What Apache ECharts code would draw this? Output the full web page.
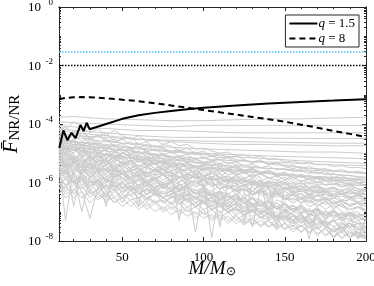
<!DOCTYPE html>
<html><head><meta charset="utf-8">
<script src="https://cdn.jsdelivr.net/npm/echarts@6/dist/echarts.min.js"></script>
<style>html,body{margin:0;padding:0;background:#fff}#c{width:374px;height:286px}</style>
</head><body><div id="c"></div>
<script>
// ---------- data ----------
const massFine = [11,15,20,25,30,35,40,45,50,55,60,65,70,75,80,85,90,95,100,105,110,115,120,125,130,135,140,145,150,155,160,165,170,175,180,185,190,195,200];
const massCoarse = [11,20,40,60,80,100,120,140,160,180,200];

const graySmooth = [
 [1.7e-4,1.8e-4,1.5e-4,1.4e-4,1.3e-4,1.3e-4,1.4e-4,1.5e-4,1.5e-4,1.6e-4,1.7e-4],
 [1.2e-4,1.1e-4,1e-4,9e-5,8e-5,9e-5,9e-5,9e-5,9e-5,9e-5,9e-5],
 [9e-5,8e-5,7e-5,6e-5,6e-5,5.5e-5,5e-5,5e-5,5e-5,5e-5,5e-5],
 [7e-5,6e-5,5e-5,4e-5,3.5e-5,3.5e-5,3.5e-5,3.3e-5,3.2e-5,3.2e-5,3.2e-5],
 [5e-5,4e-5,3.5e-5,3e-5,2.5e-5,2.2e-5,2e-5,2e-5,1.9e-5,1.8e-5,1.8e-5],
 [4e-5,3.5e-5,2.5e-5,2e-5,1.6e-5,1.4e-5,1.3e-5,1.2e-5,1.1e-5,1.1e-5,1e-5],
 [3e-5,2.5e-5,2e-5,1.5e-5,1.2e-5,1e-5,9e-6,8e-6,7.5e-6,7e-6,6.5e-6],
 [2.5e-5,2e-5,1.5e-5,1.1e-5,8e-6,6.5e-6,5.5e-6,5e-6,4.5e-6,4e-6,3.8e-6],
 [2e-5,1.6e-5,1.2e-5,8e-6,6e-6,4.5e-6,3.5e-6,3e-6,2.7e-6,2.4e-6,2.2e-6],
 [1.5e-5,1.3e-5,9e-6,6e-6,4e-6,3e-6,2.4e-6,2e-6,1.7e-6,1.5e-6,1.3e-6],
 [6e-5,5e-5,4e-5,3e-5,2.8e-5,2.6e-5,2.5e-5,2.4e-5,2.3e-5,2.2e-5,2.2e-5],
 [2.8e-5,2.4e-5,1.8e-5,1.4e-5,1.1e-5,9e-6,7.5e-6,6.5e-6,5.5e-6,5e-6,4.5e-6]
];

const grayNoisy = [
 [5e-5,3e-5,6e-5,4e-5,3e-5,4e-5,2.5e-5,3e-5,2e-5,2.5e-5,1.5e-5,2e-5,1.2e-5,1.6e-5,1e-5,1.3e-5,9e-6,1.1e-5,7e-6,8e-6,6e-6,7e-6,5e-6,6e-6,4.5e-6,5.5e-6,4e-6,4.5e-6,3.5e-6,4e-6,3e-6,3.5e-6,2.7e-6,3e-6,2.5e-6,2.8e-6,2.2e-6,2.4e-6,2e-6],
 [2e-5,1e-5,3e-5,1.5e-5,8e-6,2e-5,1.2e-5,6e-6,1e-5,1.5e-5,7e-6,5e-6,9e-6,6e-6,4e-6,7e-6,5e-6,3e-6,4e-6,6e-6,3e-6,2.5e-6,4e-6,2e-6,3e-6,1.8e-6,2.5e-6,1.5e-6,2e-6,1.2e-6,1.8e-6,1e-6,1.4e-6,8e-7,1.2e-6,7e-7,9e-7,6e-7,5e-7],
 [1e-5,2e-6,6e-6,8e-6,3e-6,5e-6,7e-6,2e-6,4e-6,5e-6,3e-6,1.5e-6,3e-6,2e-6,2.5e-6,1e-6,2e-6,1.5e-6,8e-7,1.5e-6,1e-6,6e-7,1.2e-6,8e-7,5e-7,9e-7,6e-7,3e-7,7e-7,5e-7,4e-7,2e-7,4e-7,3e-7,2.5e-7,1.5e-7,3e-7,2e-7,1e-7],
 [3e-5,1.5e-5,2e-5,8e-6,1.5e-5,1e-5,6e-6,1.2e-5,8e-6,5e-6,8e-6,4e-6,6e-6,5e-6,3e-6,5e-6,3.5e-6,2e-6,3e-6,2.5e-6,1.5e-6,2.5e-6,1.8e-6,1.2e-6,2e-6,1.5e-6,5e-8,1.2e-6,1e-6,7e-7,1e-6,6e-7,8e-7,5e-7,7e-7,4e-7,5e-7,4e-7,3e-7],
 [5e-6,5e-8,3e-6,2e-6,4e-6,1.5e-6,2.5e-6,3e-6,1.2e-6,2e-6,1.5e-6,1e-6,1.8e-6,8e-7,1.2e-6,9e-7,6e-7,1e-6,7e-7,5e-7,8e-7,4e-7,6e-7,3e-7,5e-7,4e-7,2.5e-7,4e-7,3e-7,2e-7,3e-7,1.5e-7,2e-7,1.2e-7,1.8e-7,1e-7,8e-8,1e-7,5e-8],
 [8e-5,4e-5,5e-5,7e-5,3e-5,4e-5,5e-5,2.5e-5,3e-5,3.5e-5,2e-5,2.5e-5,1.5e-5,2e-5,1.8e-5,1.2e-5,1.5e-5,1e-5,1.2e-5,8e-6,1e-5,7e-6,8e-6,6e-6,5e-6,6e-6,4e-6,5e-6,3.5e-6,3e-6,3.5e-6,2.5e-6,2e-6,2.5e-6,1.5e-6,1.8e-6,1.2e-6,1e-6,8e-7],
 [1.5e-5,8e-6,1e-5,2e-5,6e-6,9e-6,4e-6,8e-6,6e-6,3e-6,6e-6,4e-6,5e-6,2e-6,4e-6,3e-6,2.5e-6,3.5e-6,1.5e-6,2.5e-6,2e-6,1.2e-6,1.8e-6,1e-6,1.5e-6,7e-7,1.2e-6,8e-7,1e-6,6e-7,8e-7,4e-7,6e-7,5e-7,3e-7,5e-7,3e-7,4e-7,2e-7],
 [3e-6,2e-6,4e-6,1.5e-6,2.5e-6,1e-6,3e-7,1.5e-6,2e-6,1e-6,1.2e-6,7e-7,1e-6,8e-7,5e-7,9e-7,6e-7,4e-7,7e-7,3e-7,5e-7,4e-7,2e-7,4e-7,3e-7,2.5e-7,1.5e-7,2.5e-7,2e-7,1.2e-7,1.8e-7,1e-7,1.4e-7,8e-8,1.2e-7,6e-8,9e-8,5e-8,3e-8],
 [4e-5,2e-5,2.5e-5,1.5e-5,3e-5,1.8e-5,1.2e-5,2e-5,1e-5,1.3e-5,9e-6,1.1e-5,7e-6,9e-6,6e-6,8e-6,5e-6,6e-6,4.5e-6,3.5e-6,4.5e-6,3e-6,3.5e-6,2.5e-6,3e-6,2.2e-6,2.6e-6,2e-6,1.7e-6,2e-6,1.5e-6,1.8e-6,1.3e-6,1.5e-6,1.1e-6,1.3e-6,1e-6,1.2e-6,1e-6],
 [7e-6,4e-6,2e-6,5e-6,3e-6,4e-6,1.5e-6,2.5e-6,2e-6,1.2e-6,1.8e-6,1e-6,6e-7,1e-6,8e-7,5e-7,7e-7,4e-7,5e-7,3e-7,4e-7,2e-7,3e-7,2.5e-7,1.5e-7,2e-7,1.2e-7,1.5e-7,6e-8,1e-7,8e-8,5e-8,7e-8,4e-8,2e-8,4e-8,3e-8,1.5e-8,1.5e-8],
 [2e-5,2.5e-5,1.2e-5,1.5e-5,2e-5,1e-5,1.4e-5,7e-6,1e-5,8e-6,5e-6,7e-6,6e-6,4e-6,6e-6,3e-6,4.5e-6,3.5e-6,2.5e-6,3.5e-6,2.5e-6,3e-6,1.8e-6,2.2e-6,1.5e-6,2e-6,1.5e-6,1.2e-6,1.5e-6,1e-6,1.2e-6,9e-7,1.1e-6,8e-7,9e-7,7e-7,8e-7,6e-7,6e-7],
 [1e-4,6e-5,1.2e-4,8e-5,5e-5,7e-5,4e-5,6e-5,4e-5,3e-5,4e-5,2.5e-5,3e-5,2e-5,2.5e-5,1.8e-5,2e-5,1.4e-5,1.5e-5,1.2e-5,1e-5,1.1e-5,8e-6,9e-6,7e-6,8e-6,6e-6,6.5e-6,5e-6,5.5e-6,4.5e-6,5e-6,4e-6,4.2e-6,3.5e-6,3.8e-6,3.2e-6,3.3e-6,3e-6],
 [1e-6,5e-7,8e-7,1.2e-6,4e-7,6e-7,8e-7,3e-7,5e-7,6e-7,3e-7,4e-7,5e-7,2e-7,3e-7,4e-7,2.5e-7,1.5e-7,2.5e-7,3e-7,1.5e-7,2e-7,1e-7,1.5e-7,1.8e-7,1e-7,1.2e-7,6e-8,1e-7,8e-8,5e-8,7e-8,8e-8,4e-8,5e-8,6e-8,3e-8,4e-8,2e-8],
 [6e-6,3e-6,5e-6,2.5e-6,4e-6,3e-6,2e-6,3.5e-6,2e-6,1.5e-6,2e-6,1.2e-6,1.5e-6,1e-6,1.3e-6,8e-7,1e-6,7e-7,9e-7,1.3e-8,6e-7,8e-7,5e-7,6e-7,4e-7,5e-7,3e-7,4e-7,3e-7,2.5e-7,3e-7,2e-7,2.5e-7,1.8e-7,2e-7,1.5e-7,1.2e-7,1.4e-7,1e-7],
 [4e-6,6e-6,3e-6,2e-6,3e-6,2e-6,1.2e-6,2e-6,1.5e-6,9e-7,1.3e-6,1e-6,7e-7,9e-7,6e-7,8e-7,5e-7,3e-7,5e-7,4e-7,3e-7,4e-7,2.5e-7,3e-7,2e-7,1e-7,2e-7,1.5e-7,1.8e-7,1.2e-7,1.5e-7,1e-7,1.2e-7,5e-8,1e-7,8e-8,9e-8,6e-8,6e-8],
 [1.2e-5,7e-6,9e-6,5e-6,8e-6,6e-6,4e-6,6e-6,5e-6,3e-6,4e-6,3e-6,2.5e-6,3e-6,2e-6,5e-8,2e-6,1.5e-6,1.8e-6,1.2e-6,1.5e-6,1e-6,1.2e-6,8e-7,1e-6,7e-7,8e-7,6e-7,7e-7,5e-7,6e-7,4e-7,5e-7,4e-7,3.5e-7,4e-7,3e-7,3.5e-7,3e-7],
 [2.5e-6,1.5e-6,1e-6,2e-6,8e-7,1.2e-6,1.5e-6,7e-7,1e-6,6e-7,8e-7,5e-7,6e-7,4e-7,5e-7,3e-7,4e-7,3e-7,2e-7,2.5e-7,2e-7,1.5e-7,1.8e-7,1e-7,1.2e-7,9e-8,1e-7,6e-8,8e-8,5e-8,6e-8,4e-8,5e-8,3e-8,2.5e-8,3e-8,2e-8,1.5e-8,1.2e-8],
 [5e-5,2.5e-5,3e-5,4e-5,2e-5,2.5e-5,1.5e-5,2e-5,1.2e-5,1.5e-5,1e-5,1.2e-5,8e-6,1e-5,7e-6,6e-6,7e-6,5e-6,4e-6,5e-6,3.5e-6,4e-6,3e-6,2.5e-6,3e-6,2e-6,2.2e-6,1.8e-6,2e-6,1.5e-6,1.6e-6,1.3e-6,1.4e-6,1.1e-6,1.2e-6,1e-6,9e-7,1e-6,8e-7],
 [8e-6,1.2e-5,5e-6,7e-6,4e-6,6e-6,3e-6,4.5e-6,3.5e-6,2.5e-6,3e-6,2e-6,2.5e-6,1.8e-6,1.2e-6,1.6e-6,1.2e-6,1e-6,1.3e-6,8e-7,9e-7,7e-7,8e-7,5e-7,3e-8,6e-7,4e-7,5e-7,3.5e-7,4e-7,3e-7,3.5e-7,2.5e-7,2.8e-7,2e-7,2.2e-7,1.8e-7,2e-7,1.5e-7],
 [2e-6,8e-7,1.5e-6,6e-7,1e-6,1.2e-6,5e-7,8e-7,2e-7,6e-7,5e-7,3e-7,4e-7,3e-7,2e-7,3e-7,2.5e-7,1.5e-7,2e-7,1.2e-7,1.5e-7,1e-7,1.2e-7,8e-8,1e-7,7e-8,5e-8,7e-8,6e-8,4e-8,5e-8,3e-8,4e-8,5e-8,3e-8,2e-8,4e-8,3e-8,3e-8],
 [3e-5,2e-5,2.5e-5,2e-5,1.7e-5,1.5e-5,1.6e-5,1.2e-5,1.3e-5,1e-5,1.1e-5,9e-6,9.5e-6,8e-6,7e-6,7.5e-6,6e-6,6.5e-6,5e-6,5.5e-6,4.5e-6,4.8e-6,4e-6,3.8e-6,3.5e-6,3.3e-6,3e-6,3e-6,2.7e-6,2.5e-6,2.4e-6,2.2e-6,2.1e-6,2e-6,1.9e-6,1.8e-6,1.7e-6,1.6e-6,1.5e-6],
 [1.5e-6,3e-6,1e-6,2e-6,1.2e-6,7e-7,1e-6,1.3e-6,6e-7,8e-7,4e-7,6e-7,5e-7,3e-7,4e-7,5e-7,2e-7,3e-7,3.5e-7,2e-7,2.5e-7,1.2e-7,2e-7,1.5e-7,1e-7,1.3e-7,8e-8,1e-7,4e-8,8e-8,6e-8,7e-8,3e-8,5e-8,1.2e-8,4e-8,2.5e-8,1.2e-8,2e-8],
 [1e-5,1.5e-5,7e-6,4e-6,7e-6,5e-6,6e-6,3e-6,5e-6,4e-6,2.5e-6,3.5e-6,2.5e-6,3e-6,2e-6,1.5e-6,2e-6,1.5e-6,1.2e-6,1.5e-6,1e-6,1.2e-6,9e-7,7e-7,9e-7,6e-7,7e-7,5e-7,6e-7,4.5e-7,5e-7,4e-7,3.5e-7,4e-7,3e-7,3.5e-7,2.8e-7,3e-7,2.5e-7],
 [6e-5,8e-5,4e-5,5e-5,3.5e-5,4e-5,3e-5,2.5e-5,3e-5,2e-5,2.2e-5,1.6e-5,1.8e-5,1.4e-5,1.2e-5,1.3e-5,1e-5,9e-6,1e-5,8e-6,7e-6,7.5e-6,6e-6,5.5e-6,5e-6,5e-6,4.5e-6,4e-6,4e-6,3.5e-6,3.3e-6,3e-6,3e-6,2.7e-6,2.5e-6,2.4e-6,2.2e-6,2.1e-6,2e-6],
 [1.5e-5,5e-6,8e-6,3e-6,1e-5,4e-6,6e-6,2.5e-6,5e-6,3e-6,4e-6,1.5e-6,3e-6,2e-6,1.2e-6,2.5e-6,1e-6,1.8e-6,8e-7,1.2e-6,6e-7,1e-6,5e-7,8e-7,4e-7,6e-7,3e-7,5e-7,2.5e-7,4e-7,2e-7,3e-7,1.5e-7,2.5e-7,1.2e-7,2e-7,8e-8,1.5e-7,1e-7],
 [5e-6,8e-6,2e-6,4e-6,1.5e-6,3e-6,1e-6,2e-6,6e-7,1.5e-6,8e-7,1.2e-6,4e-7,9e-7,6e-7,3e-7,7e-7,4e-7,5e-7,2e-7,4e-7,1.5e-7,3e-7,2e-7,1e-7,2e-7,1.2e-7,6e-8,1.2e-7,8e-8,4e-8,9e-8,6e-8,3e-8,6e-8,2e-8,5e-8,4e-8,3e-8],
 [2.5e-5,1.2e-5,1.8e-5,8e-6,1.4e-5,7e-6,1e-5,6e-6,8e-6,5e-6,7e-6,3.5e-6,5e-6,3e-6,4e-6,2.5e-6,3e-6,2e-6,2.8e-6,1.5e-6,2e-6,1.3e-6,1.6e-6,1e-6,1.3e-6,9e-7,1.1e-6,7e-7,9e-7,6e-7,8e-7,5e-7,7e-7,4.5e-7,6e-7,4e-7,5.5e-7,4e-7,5e-7],
 [3e-6,1.5e-6,2e-6,1e-7,1.5e-6,8e-7,1.2e-6,6e-7,9e-7,5e-7,7e-7,4e-7,6e-7,3e-7,4e-7,2.5e-7,3.5e-7,2e-7,2.5e-7,1.5e-7,2e-7,1e-7,1.5e-7,8e-8,1.2e-7,6e-8,9e-8,5e-8,7e-8,3e-8,6e-8,4e-8,2.5e-8,4e-8,2e-8,3e-8,1.5e-8,2e-8,1.5e-8],
 [4e-5,1.5e-5,2.5e-5,1e-5,2e-5,1.2e-5,8e-6,1.5e-5,7e-6,1e-5,5e-6,8e-6,4e-6,6e-6,5e-6,3e-6,4.5e-6,2.5e-6,3.5e-6,2e-6,3e-6,1.8e-6,2.2e-6,1.4e-6,1.8e-6,1.1e-6,1.5e-6,9e-7,1.2e-6,8e-7,1e-6,7e-7,8e-7,6e-7,7e-7,5e-7,7e-7,5e-7,6e-7],
 [8e-6,3e-6,5e-6,6e-6,2e-6,3.5e-6,2.5e-6,1.5e-6,3e-6,1.2e-6,2e-6,1e-6,1.5e-6,7e-7,1.2e-6,6e-7,9e-7,5e-7,7e-7,4e-7,5e-7,3e-7,4e-7,2e-7,3e-7,1.8e-7,2.5e-7,1.2e-7,2e-7,1e-7,1.5e-7,8e-8,1.2e-7,6e-8,1e-7,5e-8,8e-8,1.2e-8,6e-8],
 [1.2e-5,2e-5,6e-6,1e-5,5e-6,8e-6,4e-6,5e-6,3e-6,6e-6,2.5e-6,4e-6,2e-6,3e-6,1.5e-6,2.5e-6,1.2e-6,2e-6,1e-6,1.5e-6,8e-7,1.2e-6,6e-7,9e-7,5e-7,8e-7,4e-7,6e-7,3.5e-7,5e-7,3e-7,4e-7,2.5e-7,3e-7,2e-7,2.5e-7,1.5e-7,2e-7,1.5e-7],
 [2e-6,4e-6,1e-6,1.5e-6,5e-7,1.2e-6,7e-7,1e-6,4e-7,8e-7,5e-7,2e-7,5e-7,3e-7,4e-7,2e-7,3e-7,1.5e-7,2.5e-7,1.2e-7,1.8e-7,9e-8,1.4e-7,7e-8,1.1e-7,6e-8,9e-8,4e-8,7e-8,5e-8,3e-8,5e-8,2.5e-8,4e-8,2e-8,3e-8,1.2e-8,2.5e-8,2e-8],
 [6e-6,1e-5,4e-6,2e-6,5e-6,3e-6,4e-6,2e-6,3e-6,1.5e-6,2.5e-6,1.8e-6,1.2e-6,2e-6,1e-6,1.5e-6,8e-7,1.2e-6,7e-7,1e-6,6e-7,8e-7,4e-7,6e-7,3.5e-7,5e-7,3e-7,4e-7,2.5e-7,3e-7,2e-7,2.5e-7,1.6e-7,2.2e-7,1.4e-7,1.8e-7,1.2e-7,1.5e-7,1.2e-7],
 [2e-5,1e-5,1.5e-5,7e-6,1.2e-5,6e-6,9e-6,5e-6,7e-6,4e-6,6e-6,3.5e-6,4.5e-6,2.5e-6,3.5e-6,2e-6,3e-6,1.8e-6,2.2e-6,1.4e-6,3e-8,1.2e-6,1.4e-6,8e-7,1.1e-6,7e-7,9e-7,5e-7,7e-7,4e-7,6e-7,3.5e-7,5e-7,3e-7,4e-7,2.5e-7,3.5e-7,2.2e-7,2.5e-7],
 [9e-7,4e-7,6e-7,3e-7,5e-7,2.5e-7,4e-7,2e-7,3e-7,1.5e-7,2.5e-7,1.2e-7,2e-7,1e-7,1.5e-7,8e-8,1.2e-7,6e-8,1e-7,5e-8,8e-8,4e-8,7e-8,3.5e-8,6e-8,3e-8,5e-8,2.5e-8,4e-8,2e-8,3.5e-8,1.8e-8,3e-8,1.5e-8,2.5e-8,1.2e-8,2e-8,1.5e-8,1.5e-8],
 [4e-6,2e-6,3e-6,5e-6,1.5e-6,2.5e-6,3e-6,1.2e-6,2e-6,1e-6,1.5e-6,8e-7,1.2e-6,6e-7,1e-6,5e-7,8e-7,4e-7,6e-7,3e-7,5e-7,2.5e-7,4e-7,2e-7,3e-7,1.5e-7,2.5e-7,1.2e-7,2e-7,1e-7,1.6e-7,8e-8,1.3e-7,7e-8,1.1e-7,6e-8,1e-7,7e-8,8e-8],
 [1e-5,6e-6,8e-6,5e-6,7e-6,4e-6,6e-6,3.5e-6,5e-6,3e-6,1.5e-7,3.5e-6,2.5e-6,3e-6,2e-6,2.5e-6,1.6e-6,2e-6,1.3e-6,1.6e-6,1.1e-6,1.3e-6,9e-7,1.1e-6,8e-7,9e-7,7e-7,8e-7,6e-7,7e-7,5e-7,6e-7,4.5e-7,5.5e-7,4e-7,5e-7,4e-7,4.5e-7,4e-7],
 [3e-5,1.5e-5,2e-5,1.2e-5,1.6e-5,1e-5,1.3e-5,8e-6,1e-5,7e-6,8e-6,6e-6,7e-6,5e-6,6e-6,4e-6,5e-6,3.5e-6,4e-6,3e-6,3.5e-6,2.6e-6,3e-6,2.2e-6,2.6e-6,2e-6,2.2e-6,1.7e-6,1.9e-6,1.5e-6,1.7e-6,1.3e-6,1.5e-6,1.2e-6,1.3e-6,1.1e-6,1.2e-6,1e-6,1e-6],
 [1.5e-6,8e-7,1.2e-6,5e-7,6e-8,7e-7,4e-7,6e-7,3e-7,5e-7,3e-7,4e-7,2e-7,3e-7,1.8e-7,2.5e-7,1.5e-7,2e-7,1.2e-7,1.6e-7,1e-7,1.3e-7,8e-8,1.1e-7,7e-8,9e-8,6e-8,8e-8,5e-8,7e-8,4e-8,6e-8,3.5e-8,5e-8,3e-8,4.5e-8,3e-8,4e-8,4e-8],
 [7e-5,3e-5,4.5e-5,2.5e-5,3.5e-5,2e-5,3e-5,1.8e-5,2.2e-5,1.5e-5,1.8e-5,1.1e-5,1.4e-5,9e-6,1.1e-5,8e-6,9e-6,6e-6,7.5e-6,5.5e-6,6e-6,4.5e-6,5e-6,3.8e-6,4.2e-6,3.2e-6,3.6e-6,2.7e-6,3e-6,2.4e-6,2.6e-6,2.1e-6,2.3e-6,1.9e-6,2e-6,1.7e-6,1.8e-6,1.5e-6,1.5e-6],
 [5e-6,2.5e-6,4e-6,2e-6,3e-6,1.2e-6,2e-6,1e-6,1.5e-6,7e-7,1.2e-6,6e-7,9e-7,4e-7,7e-7,3.5e-7,5e-7,2.5e-7,4e-7,2e-7,3e-7,1.5e-7,2.5e-7,1.2e-7,2e-7,9e-8,1.5e-7,7e-8,1.2e-7,5e-8,9e-8,4e-8,7e-8,3e-8,5e-8,2.5e-8,4e-8,2e-8,2e-8],
 [2.5e-6,1.2e-6,2e-6,1e-6,1.5e-6,8e-7,1.2e-6,1e-6,7e-7,1e-6,6e-7,8e-7,5e-7,7e-7,4e-7,5.5e-7,3.5e-7,4.5e-7,3e-7,4e-7,2.5e-7,3.5e-7,2e-7,3e-7,1.8e-7,2.4e-7,1.5e-7,2e-7,1.3e-7,1.7e-7,1.1e-7,1.2e-8,1.2e-7,8e-8,1e-7,7e-8,9e-8,7e-8,8e-8],
 [1.8e-5,9e-6,1.3e-5,1.5e-5,6e-6,1e-5,5e-6,8e-6,4.5e-6,6e-6,3.5e-6,5e-6,3e-6,4e-6,2.5e-6,3.2e-6,2e-6,2.6e-6,1.7e-6,2.1e-6,1.4e-6,1.7e-6,1.1e-6,1.4e-6,9e-7,1.1e-6,7.5e-7,9e-7,6e-7,7.5e-7,5e-7,6e-7,4.2e-7,5e-7,3.6e-7,4.2e-7,3.2e-7,3.6e-7,3e-7],
 [7e-6,3.5e-6,5e-6,2.5e-6,4e-6,2e-6,3e-6,1.5e-6,2.2e-6,1.2e-6,1.8e-6,9e-7,1.3e-6,7e-7,1e-6,5.5e-7,8e-7,2e-8,6e-7,3.5e-7,4.5e-7,2.5e-7,3.5e-7,2e-7,2.8e-7,1.5e-7,2.2e-7,1.2e-7,1.7e-7,1e-7,1.3e-7,7e-8,1e-7,6e-8,8e-8,5e-8,6e-8,4e-8,4e-8],
 [6e-7,1.5e-6,4e-7,8e-7,3e-7,6e-7,2e-7,5e-7,3e-7,4e-7,1.5e-7,3e-7,2e-7,2.5e-7,1.2e-7,2e-7,1e-7,1.5e-7,8e-8,1.2e-7,6e-8,1e-7,5e-8,8e-8,4e-8,7e-8,3e-8,6e-8,2.5e-8,5e-8,2e-8,4e-8,1.5e-8,3e-8,1.2e-8,2.5e-8,1.5e-8,2e-8,1.2e-8],
 [3e-6,5e-6,1.5e-7,3e-6,1.5e-6,2.5e-6,1.2e-6,2e-6,1e-6,1.5e-6,7e-7,1.2e-6,6e-7,9e-7,5e-7,7e-7,4e-7,6e-7,3e-7,5e-7,2.5e-7,4e-7,2e-7,3e-7,1.6e-7,2.4e-7,1.3e-7,2e-7,1.1e-7,1.6e-7,9e-8,1.3e-7,7e-8,1.1e-7,6e-8,9e-8,5e-8,7e-8,5e-8],
 [6e-6,3e-6,4.5e-6,7e-6,3e-6,5e-6,2.5e-6,4e-6,2e-6,3e-6,2.2e-6,1.5e-6,2e-6,1.2e-6,1.7e-6,1e-6,1.4e-6,8e-7,1.2e-6,7e-7,1e-6,6e-7,8e-7,5e-7,7e-7,4.5e-7,6e-7,4e-7,5e-7,3.5e-7,4.2e-7,3e-7,3.5e-7,2.6e-7,3e-7,2.3e-7,2.6e-7,2e-7,2e-7],
 [1.2e-6,6e-7,2e-6,8e-7,1.2e-6,4e-7,9e-7,5e-7,7e-7,3.5e-7,6e-7,2.5e-7,4.5e-7,2e-7,3.5e-7,1.8e-7,2.8e-7,1.4e-7,2.2e-7,1.1e-7,1.8e-7,9e-8,1.4e-7,7e-8,1.2e-7,6e-8,1e-7,5e-8,8e-8,4e-8,7e-8,3.5e-8,6e-8,3e-8,5e-8,2.5e-8,4e-8,2.5e-8,3e-8],
 [1.5e-5,1e-5,6e-6,1.2e-5,7e-6,9e-6,5e-6,7e-6,4e-6,6e-6,3.5e-6,4.5e-6,3e-6,3.5e-6,2.5e-6,3e-6,2e-6,2.4e-6,1.6e-6,2e-6,1.4e-6,1.6e-6,1.1e-6,1.3e-6,9e-7,1.1e-6,8e-7,2.5e-8,7e-7,6e-7,6.5e-7,5e-7,5.5e-7,4.5e-7,5e-7,4e-7,4.5e-7,3.8e-7,4e-7],
 [4e-7,8e-7,3e-7,5e-7,2e-7,4e-7,2.5e-7,3e-7,1.5e-7,2.5e-7,1.2e-7,2e-7,1e-7,1.5e-7,8e-8,1.2e-7,7e-8,1e-7,6e-8,8e-8,5e-8,7e-8,4e-8,6e-8,3.5e-8,5e-8,3e-8,4e-8,2.5e-8,3.5e-8,2e-8,3e-8,1.8e-8,2.5e-8,1.5e-8,2e-8,1.3e-8,1.8e-8,1.5e-8],
 [9e-6,4e-6,6e-6,3e-6,5e-6,2.5e-6,1.5e-7,3e-6,2e-6,2.5e-6,1.6e-6,2.2e-6,1.3e-6,1.8e-6,1.1e-6,1.4e-6,9e-7,1.2e-6,7e-7,1e-6,6e-7,8e-7,5e-7,6.5e-7,4e-7,5.5e-7,3.5e-7,4.5e-7,3e-7,3.8e-7,2.6e-7,3.2e-7,2.2e-7,2.7e-7,1.9e-7,2.3e-7,1.6e-7,2e-7,1.5e-7],
 [2e-5,1.4e-5,1.6e-5,1.2e-5,1.1e-5,1e-5,9e-6,8.5e-6,7.5e-6,7e-6,6.5e-6,6e-6,5.5e-6,5e-6,4.6e-6,4.3e-6,4e-6,3.7e-6,3.4e-6,3.2e-6,3e-6,2.8e-6,2.6e-6,2.5e-6,2.3e-6,2.2e-6,2.1e-6,2e-6,1.9e-6,1.8e-6,1.7e-6,1.6e-6,1.55e-6,1.5e-6,1.45e-6,1.4e-6,1.3e-6,1.25e-6,1.2e-6],
 [5e-6,4e-6,4.5e-6,3.5e-6,3.2e-6,3e-6,2.8e-6,2.6e-6,2.4e-6,2.2e-6,2.1e-6,2e-6,1.9e-6,1.8e-6,1.7e-6,1.6e-6,1.5e-6,1.45e-6,1.4e-6,1.35e-6,1.3e-6,1.25e-6,1.2e-6,1.15e-6,1.1e-6,1.05e-6,1e-6,1e-6,9.5e-7,9.5e-7,9e-7,9e-7,8.8e-7,8.6e-7,8.5e-7,8.3e-7,8.2e-7,8e-7,8e-7],
 [1.2e-5,4e-6,7e-6,2e-6,5e-6,2.5e-6,4e-6,1.5e-6,3e-6,1.2e-6,2e-6,8e-7,1.5e-6,6e-7,1.1e-6,5e-7,8e-7,4e-7,6e-7,3e-7,5e-7,2.5e-7,4e-7,2e-7,3e-7,1.5e-7,2.5e-7,1.2e-7,2e-7,1e-7,1.5e-7,8e-8,1.2e-7,7e-8,1e-7,6e-8,8e-8,5e-8,6e-8],
 [7e-7,3e-7,5e-7,2e-6,6e-7,3e-7,5e-7,2e-7,4e-7,2.5e-7,3e-7,1.5e-7,2.5e-7,1.2e-7,2e-7,1e-7,1.5e-7,8e-8,1.2e-7,6e-8,1e-7,5e-8,8e-8,4e-8,6e-8,3.5e-8,5e-8,3e-8,4e-8,2.5e-8,3.5e-8,2e-8,3e-8,1.6e-8,2.5e-8,1.3e-8,2e-8,1.5e-8,1.3e-8],
 [2.5e-5,1.5e-5,1e-5,2e-5,9e-6,1.3e-5,7e-6,1e-5,6e-6,8e-6,5e-6,6.5e-6,4e-6,5.5e-6,3.5e-6,4.5e-6,3e-6,3.8e-6,2.6e-6,3.2e-6,2.2e-6,2.7e-6,1.9e-6,2.3e-6,1.6e-6,2e-6,1.4e-6,1.7e-6,1.25e-6,1.5e-6,1.1e-6,1.3e-6,1e-6,1.15e-6,9e-7,1e-6,8.5e-7,9e-7,8e-7],
 [3.5e-6,1.8e-6,2.5e-6,1.2e-6,2e-6,9e-7,1.5e-6,7e-7,1.1e-6,5e-7,9e-7,4e-7,7e-7,3e-7,5.5e-7,2.5e-7,4e-7,2e-7,3.2e-7,1.6e-7,2.5e-7,1.3e-7,2e-7,1e-7,1.6e-7,8e-8,1.3e-7,6.5e-8,1e-7,5e-8,8e-8,4e-8,6e-8,3.5e-8,5e-8,3e-8,4e-8,2.5e-8,2.5e-8],
 [4e-5,2.2e-5,3e-5,1.8e-5,2.5e-5,1.4e-5,1.9e-5,1.1e-5,1.5e-5,9e-6,1.2e-5,7.5e-6,9.5e-6,6.5e-6,7.5e-6,5.5e-6,6e-6,4.5e-6,5e-6,3.8e-6,4.2e-6,3.2e-6,3.5e-6,2.7e-6,3e-6,2.3e-6,2.6e-6,2e-6,2.2e-6,1.7e-6,1.9e-6,1.5e-6,1.6e-6,1.3e-6,1.4e-6,1.15e-6,1.2e-6,1e-6,1e-6],
 [1.8e-6,2.5e-6,9e-7,1.4e-6,7e-7,1.1e-6,6e-7,9e-7,5e-7,7e-7,4e-7,6e-7,3.5e-7,5e-7,3e-7,4e-7,2.5e-7,3.5e-7,2e-7,3e-7,1.8e-7,2.5e-7,1.5e-7,2e-7,1.3e-7,1.7e-7,1.1e-7,1.5e-7,1e-7,1.3e-7,9e-8,1.1e-7,8e-8,1e-7,7e-8,9e-8,7e-8,8e-8,8e-8],
 [9e-6,5e-6,7e-6,4e-6,6e-6,3.5e-6,5e-6,3e-6,4e-6,2.5e-6,3.2e-6,2.2e-6,2.6e-6,1.9e-6,2.2e-6,1.6e-6,1.9e-6,1.4e-6,1.6e-6,1.2e-6,1.4e-6,1.1e-6,1.2e-6,4e-8,1.05e-6,8.5e-7,9.5e-7,7.5e-7,8.5e-7,7e-7,7.5e-7,6.5e-7,7e-7,6e-7,6.5e-7,5.5e-7,6e-7,5e-7,5e-7]
];

const massQ15 = [11.2,13.7,16.2,18.7,21.2,24.3,26.1,28,29.9,40,50,60,70,80,90,100,120,140,160,180,200];
const valQ15  = [1.5e-5,6e-5,2.8e-5,5e-5,3.3e-5,9.3e-5,5.7e-5,1.1e-4,6.6e-5,1e-4,1.5e-4,2e-4,2.4e-4,2.8e-4,3.2e-4,3.6e-4,4.3e-4,5e-4,5.7e-4,6.3e-4,7e-4];
const massQ8 = [11,15,20,25,30,40,50,60,70,80,90,100,110,120,130,140,150,160,170,180,190,200];
const valQ8  = [7e-4,7.8e-4,8.2e-4,8.3e-4,8.2e-4,7.6e-4,6.8e-4,6e-4,5.1e-4,4.3e-4,3.6e-4,3e-4,2.5e-4,2.1e-4,1.75e-4,1.45e-4,1.2e-4,9.5e-5,7.5e-5,5.8e-5,4.6e-5,3.6e-5];

const refMass = [11,200];
const refBlack = [1e-2,1e-2];
const refCyan = [2.9e-2,2.9e-2];

const xMajorTicks = [50,100,150,200];
const xMinorTicks = [20,30,40,60,70,80,90,110,120,130,140,160,170,180,190];
const yMajorTicks = [1e-8,1e-6,1e-4,1e-2,1];
const yMinorTicks = [];
for (let k = -8; k < 0; k++) { for (let m = 1; m <= 9; m++) { if (m === 1 && k % 2 === 0) continue; yMinorTicks.push(+(m + 'e' + k)); } }
const legendNames = ['q = 1.5', 'q = 8'];

// ---------- chart ----------
const FONT = 'Liberation Serif';
const AX = '#262626';
const pairs = (xs, ys) => xs.map((x, i) => [x, ys[i]]);
const X0 = 11, X1 = 200;

function xAx(pos, ticks, len, labels) {
  return {
    type: 'value', min: X0, max: X1, position: pos,
    axisLine: { show: true, onZero: false, lineStyle: { color: AX, width: 1 } },
    axisTick: { show: true, inside: true, length: len, customValues: ticks, lineStyle: { color: AX } },
    axisLabel: labels ? { show: true, customValues: ticks, margin: 10, color: '#000', fontFamily: FONT, fontSize: 13 } : { show: false },
    splitLine: { show: false }
  };
}
function yAx(pos, ticks, len, labels) {
  return {
    type: 'log', logBase: 10, min: 1e-8, max: 1, position: pos,
    axisLine: { show: true, onZero: false, lineStyle: { color: AX, width: 1 } },
    axisTick: { show: true, inside: true, length: len, customValues: ticks, lineStyle: { color: AX } },
    axisLabel: labels ? {
      show: true, customValues: ticks, margin: 6,
      formatter: v => '{b|10}{s|' + Math.round(Math.log10(v)).toString() + '}',
      rich: { b: { fontFamily: FONT, fontSize: 13, color: '#000', padding: [2, 0, 0, 0] }, s: { fontFamily: FONT, fontSize: 9, color: '#000', padding: [0, 0, 8, 3], width: 9 } }
    } : { show: false },
    splitLine: { show: false }
  };
}

const xAxes = [xAx('bottom', xMajorTicks, 4, true), xAx('bottom', xMinorTicks, 2, false), xAx('top', xMajorTicks, 4, false), xAx('top', xMinorTicks, 2, false)];
Object.assign(xAxes[0], {
  name: '{m|M/M}{s|\u2299}', nameLocation: 'middle', nameGap: 18, nameMoveOverlap: false,
  nameTextStyle: { rich: { m: { fontFamily: FONT, fontStyle: 'italic', fontSize: 19, color: '#000' }, s: { fontFamily: FONT, fontSize: 12, color: '#000', padding: [7, 0, 0, 1] } } }
});
const yAxes = [yAx('left', yMajorTicks, 4, true), yAx('left', yMinorTicks, 2, false), yAx('right', yMajorTicks, 4, false), yAx('right', yMinorTicks, 2, false)];
Object.assign(yAxes[0], {
  name: '{f|F\u0304}{s|NR/NR}', nameLocation: 'middle', nameGap: 36, nameRotate: 90, nameMoveOverlap: false,
  nameTextStyle: { rich: { f: { fontFamily: FONT, fontStyle: 'italic', fontSize: 21, color: '#000' }, s: { fontFamily: FONT, fontSize: 15, color: '#000', padding: [8, 0, 0, 0] } } }
});

const series = [];
graySmooth.forEach(arr => series.push({ type: 'line', data: pairs(massCoarse, arr), symbol: 'none', silent: true, lineStyle: { color: '#cccccc', width: 1 } }));
grayNoisy.forEach(arr => series.push({ type: 'line', data: pairs(massFine, arr), symbol: 'none', silent: true, lineStyle: { color: '#cccccc', width: 1 } }));
series.push({ type: 'line', data: pairs(refMass, refBlack), symbol: 'none', silent: true, lineStyle: { color: '#000', width: 1.5, type: [1.5, 1.5] } });
series.push({ type: 'line', data: pairs(refMass, refCyan), symbol: 'none', silent: true, lineStyle: { color: '#4DBEEE', width: 1.5, type: [1.5, 1.5] } });
series.push({ name: legendNames[1], type: 'line', data: pairs(massQ8, valQ8), symbol: 'none', silent: true, itemStyle: { color: '#000' }, lineStyle: { color: '#000', width: 2, type: [6, 4] } });
series.push({ name: legendNames[0], type: 'line', data: pairs(massQ15, valQ15), symbol: 'none', silent: true, itemStyle: { color: '#000' }, lineStyle: { color: '#000', width: 2 } });

const chart = echarts.init(document.getElementById('c'), null, { renderer: 'canvas' });
chart.setOption({
  animation: false,
  backgroundColor: '#fff',
  grid: { left: 59, right: 8, top: 7, bottom: 45, containLabel: false, outerBoundsMode: 'none' },
  xAxis: xAxes,
  yAxis: yAxes,
  legend: {
    data: legendNames, orient: 'vertical', right: 15, top: 15,
    backgroundColor: '#fff', borderColor: AX, borderWidth: 1, borderRadius: 0,
    padding: [2, 4, 2, 3], itemGap: 2, itemWidth: 28, itemHeight: 12,
    itemStyle: { opacity: 0 },
    formatter: n => '{i|q}{t|' + n.slice(1) + '}',
    textStyle: { padding: [0, 0, 0, -4], rich: { i: { fontFamily: FONT, fontStyle: 'italic', fontSize: 13, color: '#000' }, t: { fontFamily: FONT, fontSize: 13, color: '#000' } } }
  },
  series: series
});
</script>
</body></html>
